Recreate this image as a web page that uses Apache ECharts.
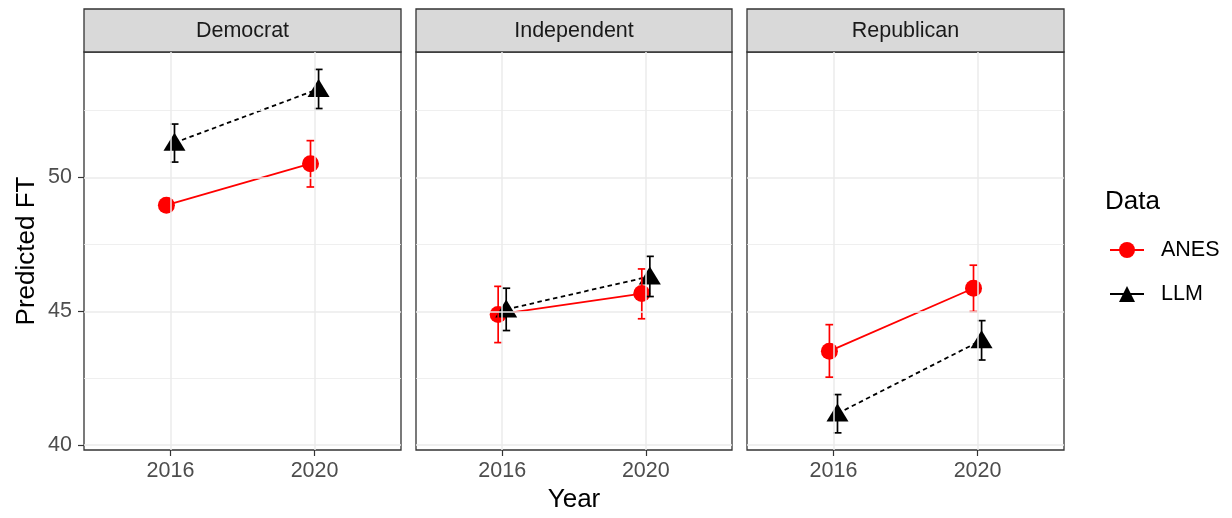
<!DOCTYPE html>
<html>
<head>
<meta charset="utf-8">
<script src="https://cdn.jsdelivr.net/npm/echarts@6/dist/echarts.min.js"></script>
<style>
html,body{margin:0;padding:0;background:#fff;}
#chart{width:1232px;height:518px;}
</style>
</head>
<body>
<div id="chart"></div>
<script>
// ---- data ----
const years = ['2016', '2020'];
const parties = ['Democrat', 'Independent', 'Republican'];
const seriesNames = ['ANES', 'LLM'];
// [party][year]
const anesMean = [[48.96, 50.51], [44.88, 45.66], [43.51, 45.86]];
const anesLow  = [[48.80, 49.64], [43.83, 44.72], [42.54, 44.99]];
const anesHigh = [[49.12, 51.37], [45.93, 46.58], [44.50, 46.72]];
const llmMean  = [[51.29, 53.30], [45.07, 46.30], [41.18, 43.92]];
const llmLow   = [[50.57, 52.57], [44.28, 45.55], [40.46, 43.18]];
const llmHigh  = [[51.99, 54.03], [45.86, 47.05], [41.89, 44.65]];
const yTicks = [40, 45, 50];
const yMinor = [42.5, 47.5, 52.5];
const xTicks = [1, 2];

// ---- layout / style ----
const FONT = '"Liberation Sans", Arial, Helvetica, sans-serif';
const panels = [
  {left: 84, width: 317},
  {left: 416, width: 316},
  {left: 747, width: 317}
];
const TOP = 52, HEIGHT = 398;
const DODGE = 0.028;
const colors = {ANES: '#FF0000', LLM: '#000000'};

const grids = [], xAxes = [], yAxes = [], series = [], graphics = [];

panels.forEach((p, i) => {
  grids.push({left: p.left, top: TOP, width: p.width, height: HEIGHT, show: true,
    borderColor: '#333333', borderWidth: 1.3, backgroundColor: '#ffffff', containLabel: false});
  xAxes.push({
    type: 'value', gridIndex: i, min: 0.4, max: 2.6,
    axisLine: {show: false}, splitLine: {show: false},
    axisTick: {show: true, length: 6, customValues: xTicks, lineStyle: {color: '#333333', width: 1.2}},
    axisLabel: {show: true, customValues: xTicks, margin: 10,
      formatter: v => years[Math.round(v) - 1] || '',
      color: '#4D4D4D', fontSize: 21.5, fontFamily: FONT},
    name: i === 1 ? 'Year' : '', nameLocation: 'middle', nameGap: 36,
    nameTextStyle: {fontSize: 26, color: '#000', fontFamily: FONT}
  });
  yAxes.push({
    type: 'value', gridIndex: i, min: 39.82, max: 54.68,
    axisLine: {show: false}, splitLine: {show: false},
    axisTick: {show: i === 0, length: 6, customValues: yTicks, lineStyle: {color: '#333333', width: 1.2}},
    axisLabel: {show: i === 0, customValues: yTicks, margin: 12,
      color: '#4D4D4D', fontSize: 21.5, fontFamily: FONT},
    name: i === 0 ? 'Predicted FT' : '', nameLocation: 'middle', nameGap: 44, nameRotate: 90,
    nameTextStyle: {fontSize: 26, color: '#000', fontFamily: FONT}
  });

  // grid lines
  const ml = [];
  yMinor.forEach(v => ml.push({yAxis: v, lineStyle: {width: 0.8}}));
  yTicks.forEach(v => ml.push({yAxis: v, lineStyle: {width: 1.5}}));
  xTicks.forEach(v => ml.push({xAxis: v, lineStyle: {width: 1.5}}));
  series.push({
    type: 'line', xAxisIndex: i, yAxisIndex: i, data: [], z: 1, silent: true,
    markLine: {silent: true, symbol: ['none', 'none'], animation: false,
      label: {show: false}, lineStyle: {color: '#EBEBEB', type: 'solid'}, data: ml}
  });

  // lines + points
  const groups = [
    {name: 'ANES', mean: anesMean[i], low: anesLow[i], high: anesHigh[i], off: -DODGE},
    {name: 'LLM', mean: llmMean[i], low: llmLow[i], high: llmHigh[i], off: DODGE}
  ];
  groups.forEach(g => {
    const isA = g.name === 'ANES';
    series.push({
      name: g.name, type: 'line', xAxisIndex: i, yAxisIndex: i, z: 3,
      data: g.mean.map((v, k) => [xTicks[k] + g.off, v]),
      symbol: isA ? 'circle' : 'triangle',
      symbolSize: isA ? 17 : [22, 18],
      symbolOffset: isA ? [0, 0] : [0, -1],
      showSymbol: true,
      itemStyle: {color: colors[g.name]},
      lineStyle: {color: colors[g.name], width: 1.8, type: isA ? 'solid' : [4.5, 3.5]},
      animation: false, silent: true
    });
  });
  groups.forEach(g => {
    series.push({
      type: 'custom', xAxisIndex: i, yAxisIndex: i, z: 4, silent: true, animation: false,
      data: g.mean.map((v, k) => [xTicks[k] + g.off, g.low[k], g.high[k]]),
      renderItem: (params, api) => {
        const x = api.value(0);
        const lo = api.coord([x, api.value(1)]);
        const hi = api.coord([x, api.value(2)]);
        const cw = 4;
        const st = {stroke: colors[g.name], lineWidth: 1.7, fill: null};
        return {type: 'group', children: [
          {type: 'line', shape: {x1: lo[0], y1: lo[1], x2: hi[0], y2: hi[1]}, style: st},
          {type: 'line', shape: {x1: lo[0] - cw, y1: lo[1], x2: lo[0] + cw, y2: lo[1]}, style: st},
          {type: 'line', shape: {x1: hi[0] - cw, y1: hi[1], x2: hi[0] + cw, y2: hi[1]}, style: st}
        ]};
      }
    });
  });

  // strip
  graphics.push({type: 'rect', shape: {x: p.left, y: 9, width: p.width, height: 43},
    style: {fill: '#D9D9D9', stroke: '#333333', lineWidth: 1.3}, silent: true});
  graphics.push({type: 'text', x: p.left + p.width / 2, y: 31,
    style: {text: parties[i], fill: '#1A1A1A', font: '21.5px ' + FONT,
      textAlign: 'center', textVerticalAlign: 'middle'}, silent: true});
});

// legend title
graphics.push({type: 'text', x: 1105, y: 202,
  style: {text: 'Data', fill: '#000', font: '26px ' + FONT, textAlign: 'left', textVerticalAlign: 'middle'}});

const chart = echarts.init(document.getElementById('chart'), null, {renderer: 'canvas'});
chart.setOption({
  animation: false,
  grid: grids, xAxis: xAxes, yAxis: yAxes, series: series,
  graphic: graphics,
  legend: {
    data: seriesNames, orient: 'vertical', left: 1109, top: 239, padding: 0,
    itemWidth: 34, itemHeight: 20, itemGap: 22, selectedMode: false,
    lineStyle: {type: 'solid', width: 2},
    textStyle: {fontSize: 21.5, color: '#000', fontFamily: FONT, lineHeight: 20, padding: [0, 0, 0, 12]}
  }
});
</script>
</body>
</html>
